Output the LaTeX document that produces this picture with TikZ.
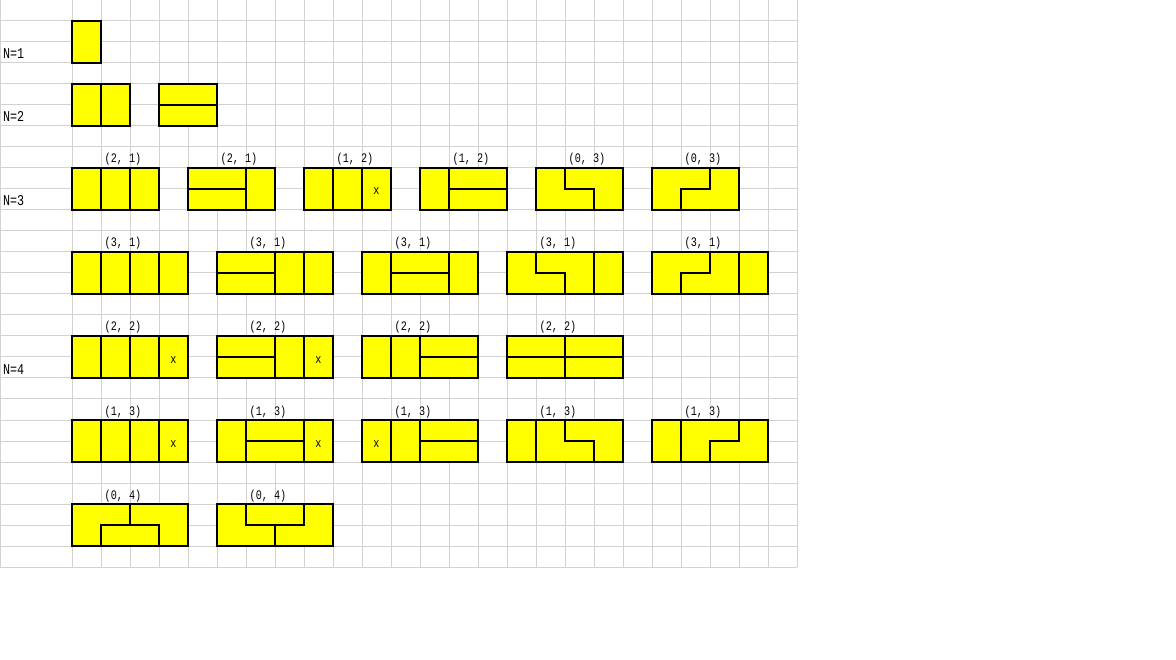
\documentclass[tikz,border=0pt]{standalone}
\usepackage{fontspec}
\newfontfamily\cellfont[FakeStretch=0.78]{Liberation Mono}
\usepackage{tikz}
\usetikzlibrary{positioning}
\definecolor{gridgray}{RGB}{210,210,210}
\definecolor{tileyellow}{RGB}{255,255,0}

\begin{document}
\begin{tikzpicture}[
  x=1pt, y=-1pt,
  gridline/.style = {draw=gridgray, line width=1pt},
  tile/.style     = {draw=black, fill=tileyellow, line width=1.2pt},
  cut/.style      = {draw=black, line width=1.2pt},
  rowlabel/.style = {anchor=base west, inner sep=0pt,
    font=\cellfont\fontsize{15pt}{15pt}\selectfont},
  pairlabel/.style = {anchor=base west, inner sep=0pt, xshift=3.5pt, yshift=5pt,
    font=\cellfont\fontsize{13pt}{13pt}\selectfont},
  xmark/.style    = {anchor=base, inner sep=0pt, yshift=-6pt,
    font=\cellfont\fontsize{13pt}{13pt}\selectfont},
]
\useasboundingbox[fill=white] (0,0) rectangle (1176,660);

%% ---- Sheet grid ----
\draw[gridline] (0,0) -- (0,567);
\foreach \i in {0,...,25}
  \draw[gridline] ({72+29*\i},0) -- ({72+29*\i},567);
\foreach \j in {0,...,27}
  \draw[gridline] (0,{21*\j}) -- (797,{21*\j});

%% ---- Row labels ----
\node[rowlabel] (n1) at (3,59)  {N=1};
\node[rowlabel] (n2) at (3,122) {N=2};
\node[rowlabel] (n3) at (3,206) {N=3};
\node[rowlabel] (n4) at (3,374) {N=4};

\begin{scope}[shift={(72pt,0pt)}, x=29pt, y=-21pt]
%% ---- N=1 and N=2 ----
\draw[tile] (0,1) rectangle (1,3);
\draw[tile] (0,4) rectangle (2,6);
\draw[cut]  (1,4) -- (1,6);
\draw[tile] (3,4) rectangle (5,6);
\draw[cut]  (3,5) -- (5,5);

%% ---- N=3 ----
\draw[tile] (0,8) rectangle (3,10);
\draw[cut]  (1,8) -- (1,10) (2,8) -- (2,10);
\node[pairlabel] (l3a) at (1,8) {(2, 1)};

\draw[tile] (4,8) rectangle (7,10);
\draw[cut]  (4,9) -- (6,9) (6,8) -- (6,10);
\node[pairlabel] (l3b) at (5,8) {(2, 1)};

\draw[tile] (8,8) rectangle (11,10);
\draw[cut]  (9,8) -- (9,10) (10,8) -- (10,10);
\node[xmark] (x3c) at (10.5,9) {x};
\node[pairlabel] (l3c) at (9,8) {(1, 2)};

\draw[tile] (12,8) rectangle (15,10);
\draw[cut]  (13,8) -- (13,10) (13,9) -- (15,9);
\node[pairlabel] (l3d) at (13,8) {(1, 2)};

\draw[tile] (16,8) rectangle (19,10);
\draw[cut]  (17,8) -- (17,9) -- (18,9) -- (18,10);
\node[pairlabel] (l3e) at (17,8) {(0, 3)};

\draw[tile] (20,8) rectangle (23,10);
\draw[cut]  (22,8) -- (22,9) -- (21,9) -- (21,10);
\node[pairlabel] (l3f) at (21,8) {(0, 3)};

%% ---- N=4: (3,1) ----
\draw[tile] (0,12) rectangle (4,14);
\draw[cut]  (1,12) -- (1,14) (2,12) -- (2,14) (3,12) -- (3,14);
\node[pairlabel] (l4a) at (1,12) {(3, 1)};

\draw[tile] (5,12) rectangle (9,14);
\draw[cut]  (5,13) -- (7,13) (7,12) -- (7,14) (8,12) -- (8,14);
\node[pairlabel] (l4b) at (6,12) {(3, 1)};

\draw[tile] (10,12) rectangle (14,14);
\draw[cut]  (11,12) -- (11,14) (11,13) -- (13,13) (13,12) -- (13,14);
\node[pairlabel] (l4c) at (11,12) {(3, 1)};

\draw[tile] (15,12) rectangle (19,14);
\draw[cut]  (16,12) -- (16,13) -- (17,13) -- (17,14) (18,12) -- (18,14);
\node[pairlabel] (l4d) at (16,12) {(3, 1)};

\draw[tile] (20,12) rectangle (24,14);
\draw[cut]  (22,12) -- (22,13) -- (21,13) -- (21,14) (23,12) -- (23,14);
\node[pairlabel] (l4e) at (21,12) {(3, 1)};

%% ---- N=4: (2,2) ----
\draw[tile] (0,16) rectangle (4,18);
\draw[cut]  (1,16) -- (1,18) (2,16) -- (2,18) (3,16) -- (3,18);
\node[xmark] (x5a) at (3.5,17) {x};
\node[pairlabel] (l5a) at (1,16) {(2, 2)};

\draw[tile] (5,16) rectangle (9,18);
\draw[cut]  (5,17) -- (7,17) (7,16) -- (7,18) (8,16) -- (8,18);
\node[xmark] (x5b) at (8.5,17) {x};
\node[pairlabel] (l5b) at (6,16) {(2, 2)};

\draw[tile] (10,16) rectangle (14,18);
\draw[cut]  (11,16) -- (11,18) (12,16) -- (12,18) (12,17) -- (14,17);
\node[pairlabel] (l5c) at (11,16) {(2, 2)};

\draw[tile] (15,16) rectangle (19,18);
\draw[cut]  (17,16) -- (17,18) (15,17) -- (19,17);
\node[pairlabel] (l5d) at (16,16) {(2, 2)};

%% ---- N=4: (1,3) ----
\draw[tile] (0,20) rectangle (4,22);
\draw[cut]  (1,20) -- (1,22) (2,20) -- (2,22) (3,20) -- (3,22);
\node[xmark] (x6a) at (3.5,21) {x};
\node[pairlabel] (l6a) at (1,20) {(1, 3)};

\draw[tile] (5,20) rectangle (9,22);
\draw[cut]  (6,20) -- (6,22) (6,21) -- (8,21) (8,20) -- (8,22);
\node[xmark] (x6b) at (8.5,21) {x};
\node[pairlabel] (l6b) at (6,20) {(1, 3)};

\draw[tile] (10,20) rectangle (14,22);
\draw[cut]  (11,20) -- (11,22) (12,20) -- (12,22) (12,21) -- (14,21);
\node[xmark] (x6c) at (10.5,21) {x};
\node[pairlabel] (l6c) at (11,20) {(1, 3)};

\draw[tile] (15,20) rectangle (19,22);
\draw[cut]  (16,20) -- (16,22) (17,20) -- (17,21) -- (18,21) -- (18,22);
\node[pairlabel] (l6d) at (16,20) {(1, 3)};

\draw[tile] (20,20) rectangle (24,22);
\draw[cut]  (21,20) -- (21,22) (23,20) -- (23,21) -- (22,21) -- (22,22);
\node[pairlabel] (l6e) at (21,20) {(1, 3)};

%% ---- N=4: (0,4) ----
\draw[tile] (0,24) rectangle (4,26);
\draw[cut]  (2,24) -- (2,25) (1,26) -- (1,25) -- (3,25) -- (3,26);
\node[pairlabel] (l7a) at (1,24) {(0, 4)};

\draw[tile] (5,24) rectangle (9,26);
\draw[cut]  (6,24) -- (6,25) -- (8,25) -- (8,24) (7,25) -- (7,26);
\node[pairlabel] (l7b) at (6,24) {(0, 4)};
\end{scope}

\end{tikzpicture}
\end{document}
